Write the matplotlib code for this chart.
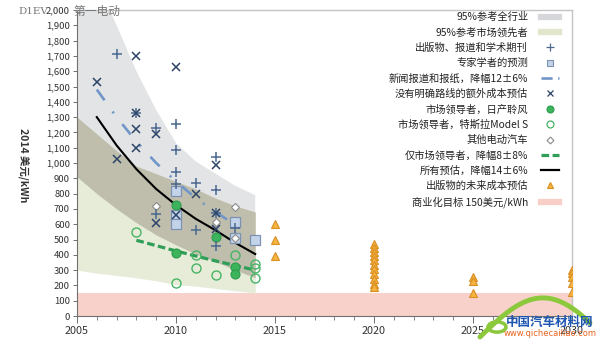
import matplotlib
matplotlib.use("Agg")
import matplotlib.pyplot as plt
from matplotlib.lines import Line2D
from matplotlib.ticker import FuncFormatter, MultipleLocator
import numpy as np

plt.rcParams['font.family'] = ['Noto Sans CJK SC', 'DejaVu Sans']
plt.rcParams['lines.scale_dashes'] = False

# ---------------- data ----------------
band_years = [2005, 2006, 2007, 2008, 2009, 2010, 2011, 2012, 2013, 2014]
all_upper = [2500, 2200, 1900, 1600, 1346, 1130, 1010, 930, 850, 790]
all_lower = [910, 800, 700, 610, 530, 465, 405, 355, 300, 250]
leader_upper = [1300, 1190, 1080, 980, 930, 880, 830, 770, 720, 680]
leader_lower = [300, 280, 265, 250, 230, 205, 195, 180, 165, 150]

pub_years = [2007, 2008, 2009, 2009, 2010, 2010, 2010, 2010, 2011, 2011, 2012, 2012, 2012, 2012, 2013]
pub_vals = [1710, 1327, 1228, 664, 1255, 1085, 940, 865, 867, 565, 1040, 823, 673, 455, 575]

expert_years = [2010, 2010, 2010, 2013, 2013, 2014]
expert_vals = [820, 660, 602, 613, 510, 500]

news_years = [2006, 2007, 2008, 2009, 2010, 2011, 2012, 2013, 2013.7]
news_vals = [1480, 1300, 1140, 1000, 880, 770, 680, 595, 540]

extra_years = [2006, 2007, 2008, 2008, 2008, 2008, 2009, 2009, 2010, 2010, 2011, 2012, 2012, 2012]
extra_vals = [1530, 1026, 1700, 1327, 1222, 1100, 1190, 609, 1630, 657, 795, 990, 673, 568]

leaf_years = [2010, 2010, 2012, 2013, 2013]
leaf_vals = [725, 412, 517, 321, 277]

tesla_years = [2008, 2010, 2011, 2011, 2012, 2013, 2014, 2014, 2014]
tesla_vals = [550, 216, 397, 314, 271, 397, 340, 314, 249]

other_years = [2009, 2012, 2013, 2013]
other_vals = [718, 613, 711, 510]

leader_fit_years = [2008, 2009, 2010, 2011, 2012, 2013, 2014]
leader_fit_vals = [495, 460, 425, 392, 360, 330, 300]

all_fit_years = [2006, 2007, 2008, 2009, 2010, 2011, 2012, 2013, 2014]
all_fit_vals = [1300, 1115, 960, 830, 725, 635, 560, 478, 405]

future_years = [2015, 2015, 2015,
                2020, 2020, 2020, 2020, 2020, 2020, 2020, 2020, 2020, 2020, 2020,
                2025, 2025, 2025,
                2030, 2030, 2030, 2030, 2030]
future_vals = [600, 495, 395,
               470, 445, 420, 395, 365, 335, 310, 275, 240, 210, 190,
               255, 228, 152,
               300, 278, 255, 215, 155]

target_value = 150

labels = ["95%参考全行业", "95%参考市场领先者", "出版物、报道和学术期刊", "专家学者的预测",
          "新闻报道和报纸，降幅12±6%", "没有明确路线的额外成本预估", "市场领导者，日产聆风",
          "市场领导者，特斯拉Model S", "其他电动汽车", "仅市场领导者，降幅8±8%",
          "所有预估，降幅14±6%", "出版物的未来成本预估", "商业化目标 150美元/kWh"]

x_ticks = [2005, 2010, 2015, 2020, 2025, 2030]

# ---------------- colours ----------------
c_gray = '#e3e4e6'
c_green = '#e6ecd8'
c_overlap = '#bfbead'
c_pink = '#f8d2ca'
c_plus = '#4a6890'
c_x = '#2c4468'
c_sq_face = '#c3d4ea'
c_sq_edge = '#7d92b2'
c_news = '#7196c8'
c_leaf = '#3cb45c'
c_tesla = '#46b464'
c_other = '#8a8a8a'
c_lfit = '#2f9e58'
c_tri_face = '#f6b440'
c_tri_edge = '#d98e22'

fig = plt.figure(figsize=(6, 3.42), dpi=100)
ax = fig.add_axes([77/600, 1-316/342, (572-77)/600, (316-10)/342])

ax.set_xlim(2005, 2030)
ax.set_ylim(0, 2000)

# bands
by = np.array(band_years, dtype=float)
au = np.array(all_upper, dtype=float)
al = np.array(all_lower, dtype=float)
lu = np.array(leader_upper, dtype=float)
ll = np.array(leader_lower, dtype=float)
ax.axhspan(0, target_value, color=c_pink, lw=0, zorder=0.5)
ax.fill_between(by, al, au, color=c_gray, lw=0, zorder=1)
ax.fill_between(by, ll, lu, color=c_green, lw=0, zorder=1.1)
ax.fill_between(by, np.maximum(al, ll), np.minimum(au, lu), color=c_overlap, lw=0, zorder=1.2)

# lines
ax.plot(news_years, news_vals, color=c_news, lw=1.9, dashes=[9.5, 10, 1.5, 10], zorder=3)
ax.plot(all_fit_years, all_fit_vals, color='black', lw=1.5, zorder=3)
ax.plot(leader_fit_years, leader_fit_vals, color=c_lfit, lw=2.3, dashes=[5.5, 2.5], zorder=3)

# markers
ax.plot(expert_years, expert_vals, ls='none', marker='s', ms=6.5, mfc=c_sq_face, mec=c_sq_edge, mew=0.9, zorder=4)
ax.plot(other_years, other_vals, ls='none', marker='D', ms=4.2, mfc='white', mec=c_other, mew=0.8, zorder=4.5)
ax.plot(tesla_years, tesla_vals, ls='none', marker='o', ms=6.5, mfc='none', mec=c_tesla, mew=1.0, zorder=4)
ax.plot(leaf_years, leaf_vals, ls='none', marker='o', ms=6.5, mfc=c_leaf, mec='#2c9c4c', mew=0.8, zorder=4)
ax.plot(pub_years, pub_vals, ls='none', marker='+', ms=7.5, mec=c_plus, mew=1.1, zorder=5)
ax.plot(extra_years, extra_vals, ls='none', marker='x', ms=5.5, mec=c_x, mew=1.1, zorder=5)
ax.plot(future_years, future_vals, ls='none', marker='^', ms=6, mfc=c_tri_face, mec=c_tri_edge, mew=0.8, zorder=5)

# axes styling
for s in ['top', 'right']:
    ax.spines[s].set_color('#c4c4c4')
    ax.spines[s].set_linewidth(1.0)
for s in ['left', 'bottom']:
    ax.spines[s].set_color('#707070')
    ax.spines[s].set_linewidth(0.8)
ax.yaxis.set_major_locator(MultipleLocator(100))
ax.yaxis.set_major_formatter(FuncFormatter(lambda v, p: f"{int(v):,}"))
ax.set_xticks(x_ticks)
ax.set_xticklabels([str(t) for t in x_ticks])
ax.xaxis.set_minor_locator(MultipleLocator(1))
ax.tick_params(axis='y', which='major', length=3, width=0.7, color='#707070', labelsize=6.8,
               labelcolor='#333333', pad=2)
ax.tick_params(axis='x', which='major', length=5, width=0.7, color='#707070', labelsize=7.8,
               labelcolor='#333333', pad=2)
ax.tick_params(axis='x', which='minor', length=3, width=0.6, color='#707070')
ax.tick_params(top=False, right=False)

fig.text(24/600, 1-165/342, "2014 美元/kWh", rotation=270, ha='center', va='center',
         fontsize=7.5, fontweight='bold', color='#333333')

# legend
handles = [
    Line2D([], [], color='#d6d7da', lw=4.5),
    Line2D([], [], color='#dfe6cc', lw=4.5),
    Line2D([], [], ls='none', marker='+', ms=6, mec=c_plus, mew=0.9),
    Line2D([], [], ls='none', marker='s', ms=5, mfc=c_sq_face, mec=c_sq_edge, mew=0.8),
    Line2D([], [], color=c_news, lw=1.9, dashes=[8, 4, 1.5, 4]),
    Line2D([], [], ls='none', marker='x', ms=5, mec=c_x, mew=0.9),
    Line2D([], [], ls='none', marker='o', ms=5, mfc=c_leaf, mec='#2c9c4c', mew=0.8),
    Line2D([], [], ls='none', marker='o', ms=5, mfc='none', mec=c_tesla, mew=0.9),
    Line2D([], [], ls='none', marker='D', ms=3.5, mfc='white', mec=c_other, mew=0.8),
    Line2D([], [], color=c_lfit, lw=2.3, dashes=[5.5, 2.5]),
    Line2D([], [], color='black', lw=1.6),
    Line2D([], [], ls='none', marker='^', ms=5, mfc=c_tri_face, mec=c_tri_edge, mew=0.8),
    Line2D([], [], color='#f8cfc6', lw=4.5),
]
leg = ax.legend(handles, labels, loc='upper right', bbox_to_anchor=(559/600, 1-12/342),
                bbox_transform=fig.transFigure, frameon=False, markerfirst=False,
                fontsize=7.4, handlelength=1.75, handletextpad=1.25, labelspacing=0.5,
                borderpad=0, borderaxespad=0)
for t in leg.get_texts():
    t.set_color('#222222')

# watermarks
fig.text(18/600, 1-11/342, "D1EV", fontsize=7.5, color='#777777', family='DejaVu Serif',
         va='center', ha='left')
fig.text(73/600, 1-11/342, "第一电动", fontsize=8.5, color='#777777', va='center', ha='left')

# bottom-right logo
t = np.linspace(0, 1, 60)
sx = 480 + 110 * t
sy = 337 - 42 * np.sin(np.pi * t * 0.85) + 5 * t
fig.add_artist(Line2D(sx / 600, 1 - sy / 342, color='#8cc83c', lw=3.5, transform=fig.transFigure,
                      solid_capstyle='round'))
circ = plt.Circle((497/600, 1-327/342), 9/600, transform=fig.transFigure, fill=False,
                  ec='#8cc83c', lw=2.5)
fig.add_artist(circ)
fig.text(550/600, 1-322/342, "中国汽车材料网", fontsize=9, fontweight='bold', color='#1f56b0',
         ha='center', va='center')
fig.text(550/600, 1-333/342, "www.qichecailiao.com", fontsize=6, color='#e8641e',
         ha='center', va='center', family='DejaVu Sans')

fig.savefig("out.png", dpi=100)
